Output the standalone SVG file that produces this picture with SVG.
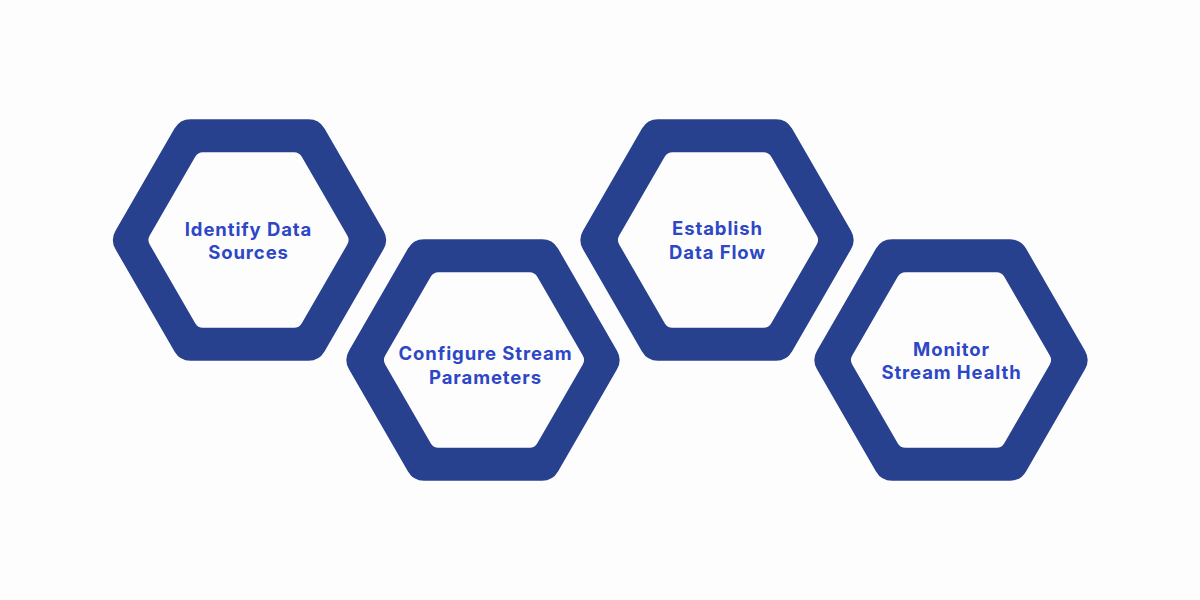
<svg xmlns="http://www.w3.org/2000/svg" xmlns:xlink="http://www.w3.org/1999/xlink" width="1200" height="600" viewBox="0 0 1200 600">
  <style>
    .ring { fill: #28418f; stroke: #28418f; stroke-width: 37; stroke-linejoin: round; }
    .hole { fill: #fdfdfd; stroke: #fdfdfd; stroke-width: 18; stroke-linejoin: round; }
    .label { font-family: "Inter", "Open Sans", "Liberation Sans", sans-serif; font-weight: 700; font-size: 18.5px; letter-spacing: 0.9px; fill: #2d47c7; text-anchor: middle; }
  </style>
  <defs>
    <polygon id="outerHex" points="-118,0 -59,-102.2 59,-102.2 118,0 59,102.2 -59,102.2"/>
    <polygon id="innerHex" points="-91,0 -45.5,-78.8 45.5,-78.8 91,0 45.5,78.8 -45.5,78.8"/>
  </defs>
  <rect x="0" y="0" width="1200" height="600" fill="#fdfdfd"/>
  <g id="connectors"></g>
  <g id="node-identify" transform="translate(249.5,240)">
    <use xlink:href="#outerHex" class="ring"/>
    <use xlink:href="#innerHex" class="hole" x="-1"/>
    <text class="label" x="-1" y="-4.5">Identify Data</text>
    <text class="label" x="-1" y="19">Sources</text>
  </g>
  <g id="node-configure" transform="translate(483,360)">
    <use xlink:href="#outerHex" class="ring"/>
    <use xlink:href="#innerHex" class="hole" x="1"/>
    <text class="label" x="2.5" y="0">Configure Stream</text>
    <text class="label" x="2.5" y="23.5">Parameters</text>
  </g>
  <g id="node-establish" transform="translate(717,240)">
    <use xlink:href="#outerHex" class="ring"/>
    <use xlink:href="#innerHex" class="hole" x="1"/>
    <text class="label" x="0.5" y="-5">Establish</text>
    <text class="label" x="0.5" y="18.5">Data Flow</text>
  </g>
  <g id="node-monitor" transform="translate(951,360)">
    <use xlink:href="#outerHex" class="ring"/>
    <use xlink:href="#innerHex" class="hole"/>
    <text class="label" x="0.5" y="-4.5">Monitor</text>
    <text class="label" x="0.5" y="19">Stream Health</text>
  </g>
</svg>
